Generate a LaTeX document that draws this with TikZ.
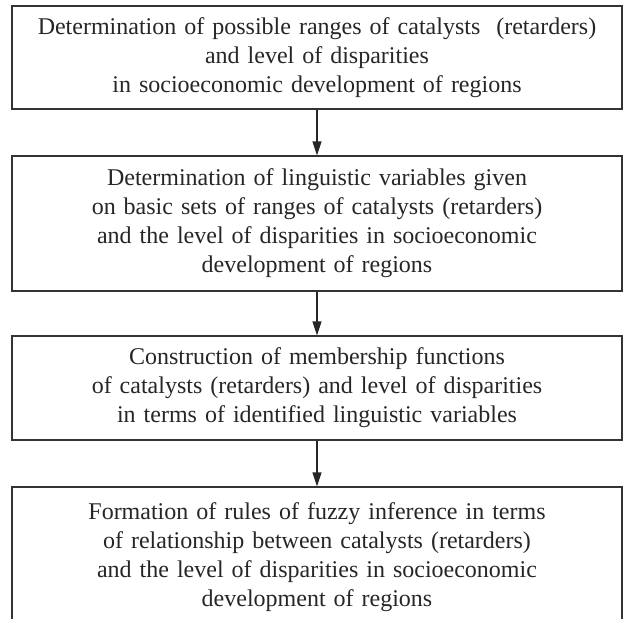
\documentclass[tikz,border=0pt]{standalone}
\usepackage{fontspec}
\setmainfont{Liberation Serif}
\usetikzlibrary{arrows.meta}
\begin{document}
\begin{tikzpicture}[x=1pt,y=1pt,
  box/.style={draw=black!80, line width=1.2pt, minimum width=610pt, text width=604pt,
    align=center, inner sep=0pt, text=black!85,
    font=\fontsize{24}{29}\selectfont},
  arr/.style={draw=black!85, line width=1.2pt, -{Triangle[length=14pt,width=9pt]}}]
\useasboundingbox (0,0) rectangle (623,-618);
\node[box, minimum height=103pt] (b1) at (317,-57.5)
  {Determination of possible ranges of catalysts\ \ (retarders)\\ and level of disparities\\ in socioeconomic development of regions};
\node[box, minimum height=135pt] (b2) at (317,-223.5)
  {Determination of linguistic variables given\\ on basic sets of ranges of catalysts (retarders)\\ and the level of disparities in socioeconomic\\ development of regions};
\node[box, minimum height=104pt] (b3) at (317,-388)
  {Construction of membership functions\\ of catalysts (retarders) and level of disparities\\ in terms of identified linguistic variables};
\node[box, minimum height=140pt] (b4) at (317,-557)
  {Formation of rules of fuzzy inference in terms\\ of relationship between catalysts (retarders)\\ and the level of disparities in socioeconomic\\ development of regions};
\draw[arr] (b1) -- (b2);
\draw[arr] (b2) -- (b3);
\draw[arr] (b3) -- (b4);
\end{tikzpicture}
\end{document}
